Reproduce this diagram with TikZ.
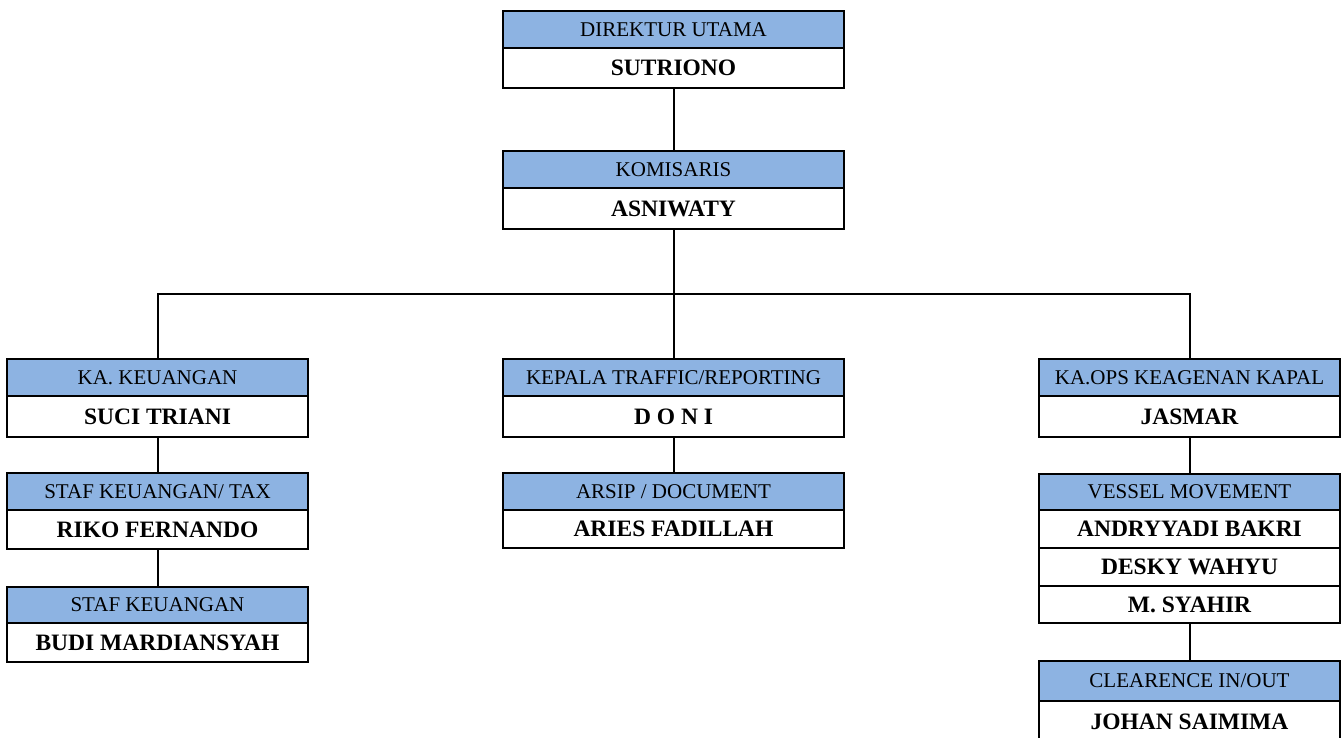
\documentclass[tikz,border=0pt]{standalone}
\usepackage{fontspec}
\setmainfont{Liberation Serif}
\definecolor{hdrblue}{HTML}{8DB3E2}
\begin{document}
\begin{tikzpicture}[x=1pt,y=-1pt,
  cellbase/.style={draw=black, line width=2pt, inner sep=0pt, outer sep=0pt, anchor=north west},
  hdr/.style={cellbase, fill=hdrblue, minimum height=37pt, font=\fontsize{21}{23}\selectfont},
  nm/.style={cellbase, fill=white, minimum height=39pt, font=\fontsize{23.5}{25}\selectfont\bfseries},
  wide/.style={minimum width=341pt},
  narrow/.style={minimum width=301pt},
  conn/.style={draw=black, line width=2pt}]
\useasboundingbox (0,0) rectangle (1344,737);
% top
\node[hdr,wide] (dh) at (503,11) {DIREKTUR UTAMA};
\node[nm,wide,minimum height=40pt] (dn) at (dh.south west) {SUTRIONO};
\node[hdr,wide] (kh) at (503,151) {KOMISARIS};
\node[nm,wide,minimum height=41pt] (kn) at (kh.south west) {ASNIWATY};
% level 2
\node[hdr,narrow] (lh) at (7,359) {KA. KEUANGAN};
\node[nm,narrow,minimum height=41pt] (ln) at (lh.south west) {SUCI TRIANI};
\node[hdr,wide] (mh) at (503,359) {KEPALA TRAFFIC/REPORTING};
\node[nm,wide,minimum height=41pt] (mn) at (mh.south west) {D O N I};
\node[hdr,narrow] (rh) at (1039,359) {KA.OPS KEAGENAN KAPAL};
\node[nm,narrow,minimum height=41pt] (rn) at (rh.south west) {JASMAR};
% level 3
\node[hdr,narrow,minimum height=37pt] (l2h) at (7,473) {STAF KEUANGAN/ TAX};
\node[nm,narrow] (l2n) at (l2h.south west) {RIKO FERNANDO};
\node[hdr,wide,minimum height=37pt] (m2h) at (503,473) {ARSIP / DOCUMENT};
\node[nm,wide,minimum height=38pt] (m2n) at (m2h.south west) {ARIES FADILLAH};
\node[hdr,narrow,minimum height=36pt] (r2h) at (1039,474) {VESSEL MOVEMENT};
\node[nm,narrow,minimum height=38pt] (r2a) at (r2h.south west) {ANDRYYADI BAKRI};
\node[nm,narrow,minimum height=38pt] (r2b) at (r2a.south west) {DESKY WAHYU};
\node[nm,narrow,minimum height=37pt] (r2c) at (r2b.south west) {M. SYAHIR};
% level 4
\node[hdr,narrow,minimum height=36pt] (l3h) at (7,587) {STAF KEUANGAN};
\node[nm,narrow] (l3n) at (l3h.south west) {BUDI MARDIANSYAH};
\node[hdr,narrow,minimum height=40pt] (r3h) at (1039,661) {CLEARENCE IN/OUT};
\node[nm,narrow,minimum height=42pt] (r3n) at (r3h.south west) {JOHAN SAIMIMA};
% connectors
\coordinate (hub) at (673.5,294);
\draw[conn] (dn.south) -- (kh.north);
\draw[conn] (kn.south) -- (hub);
\draw[conn] (lh.north) |- (hub) -| (rh.north);
\draw[conn] (hub) -- (mh.north);
\draw[conn] (ln.south) -- (l2h.north);
\draw[conn] (l2n.south) -- (l3h.north);
\draw[conn] (mn.south) -- (m2h.north);
\draw[conn] (rn.south) -- (r2h.north);
\draw[conn] (r2c.south) -- (r3h.north);
\end{tikzpicture}
\end{document}
